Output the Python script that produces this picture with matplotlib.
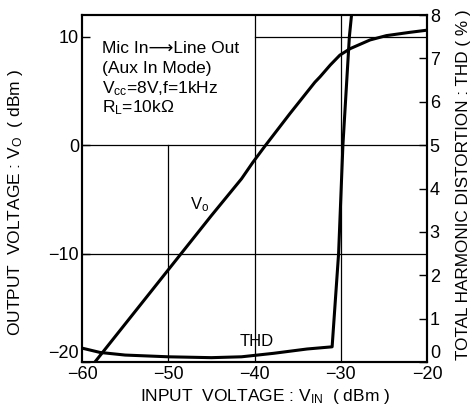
import numpy as np
import matplotlib
matplotlib.use("Agg")
import matplotlib.pyplot as plt

plt.rcParams['font.family'] = ['Liberation Sans', 'DejaVu Sans']
plt.rcParams['mathtext.default'] = 'regular'

# output voltage Vo (dBm) vs input voltage Vin (dBm)
vin_vo = [-58.5, -50.0, -45.0, -41.5, -40.2, -38.8, -35.9, -33.0, -32.4, -31.2,
          -30.1, -28.9, -26.6, -24.7, -22.0, -20.0]
vo = [-20.0, -11.5, -6.5, -3.1, -1.6, -0.1, 2.9, 5.8, 6.3, 7.4,
      8.3, 8.9, 9.7, 10.1, 10.4, 10.6]

# THD (%) vs input voltage
vin_thd = [-60.0, -57.9, -55.0, -50.0, -45.0, -41.5, -37.8, -33.9, -31.0,
           -30.25, -29.75, -29.0, -28.75]
thd = [0.32, 0.22, 0.16, 0.12, 0.10, 0.12, 0.2, 0.3, 0.35,
       2.5, 5.0, 7.5, 8.0]

# grid segments (position, start, end) in data units
hgrid = [(0, -60, -20), (-10, -60, -20), (10, -40, -20)]
vgrid = [(-30, -20, 12), (-40, -20, 12), (-50, -20, 0)]

fig = plt.figure(figsize=(4.73, 4.08), dpi=100)
ax = fig.add_axes([82/473, 1-362/408, 345/473, 347/408])
ax2 = ax.twinx()

for y, x0, x1 in hgrid:
    ax.plot([x0, x1], [y, y], color='black', lw=0.9)
for x, y0, y1 in vgrid:
    ax.plot([x, x], [y0, y1], color='black', lw=0.9)

ax.plot(vin_vo, vo, color='black', lw=2.2, solid_joinstyle='round')
ax2.plot(vin_thd, thd, color='black', lw=2.2, solid_joinstyle='round')

ax.set_xlim(-60, -20)
ax.set_ylim(-20, 12)
ax2.set_ylim(0, 8)

ax.set_xticks([-60, -50, -40, -30, -20])
ax.set_xticklabels(['\u221260', '\u221250', '\u221240', '\u221230', '\u221220'])
ax.set_yticks([-20, -10, 0, 10])
ax.set_yticklabels(['\u221220', '\u221210', '0', '10'])
ax2.set_yticks(range(0, 9))

ax.tick_params(axis='x', length=0, labelsize=13, pad=3)
ax.tick_params(axis='y', direction='in', length=6, width=1, labelsize=13, pad=2)
ax2.tick_params(axis='y', direction='in', length=6, width=1, labelsize=13, pad=2)

# lift the bottom-most y labels like the original
ax.get_yticklabels()[0].set_verticalalignment('bottom')
ax2.get_yticklabels()[0].set_verticalalignment('bottom')

for a in (ax, ax2):
    for s in a.spines.values():
        s.set_linewidth(1.5)

ax.set_xlabel('INPUT  VOLTAGE : V$_{IN}$  ( dBm )', fontsize=12.5)
ax.set_ylabel('OUTPUT  VOLTAGE : V$_O$  ( dBm )', fontsize=12.5)
ax2.set_ylabel('TOTAL HARMONIC DISTORTION : THD ( % )', fontsize=12.3)
ax.xaxis.set_label_coords(0.53, -0.072)
ax.yaxis.set_label_coords(-0.165, 0.46)
ax2.yaxis.set_label_coords(1.085, 0.51)

ax.text(-57.7, 8.48, 'Mic In\u27f6Line Out', fontsize=12.5, va='baseline')
ax.text(-57.7, 6.64, '(Aux In Mode)', fontsize=12.5, va='baseline')
ax.text(-57.7, 4.79, 'V$_{cc}$=8V,f=1kHz', fontsize=12.5, va='baseline')
ax.text(-57.7, 3.04, 'R$_L$=10k\u03a9', fontsize=12.5, va='baseline')
ax.text(-46.4, -5.5, 'V$_o$', fontsize=12, ha='center', va='center')
ax.text(-39.8, -18.1, 'THD', fontsize=12, ha='center', va='center')

fig.savefig('out.png', dpi=100)
